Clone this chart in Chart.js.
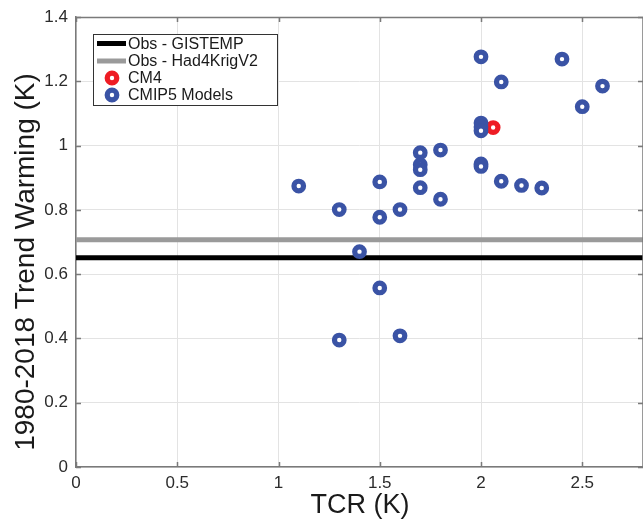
<!DOCTYPE html>
<html lang="en">
<head>
    <meta charset="UTF-8">
    <title>TCR vs Trend Warming</title>
    <script src="https://cdn.jsdelivr.net/npm/chart.js"></script>
    <style>
        html, body {
            margin: 0;
            background: #ffffff;
            overflow: hidden;
        }
        .chart-container {
            position: relative;
            width: 643px;
            height: 520px;
        }
    </style>
</head>
<body>

<div class="chart-container">
    <canvas id="myChart"></canvas>
</div>

<script>
    // valores
    const cmipTcr = [2.0, 2.4, 2.1, 2.6, 2.5, 2.0, 2.0, 2.0, 1.7, 1.8, 1.7, 1.7, 2.0, 2.0, 2.1, 2.2, 2.3, 1.1, 1.5, 1.7, 1.8, 1.3, 1.6, 1.5, 1.4, 1.5, 1.3, 1.6];
    const cmipWarming = [1.276, 1.269, 1.198, 1.185, 1.121, 1.07, 1.058, 1.046, 0.978, 0.986, 0.94, 0.925, 0.943, 0.935, 0.889, 0.876, 0.868, 0.874, 0.887, 0.869, 0.833, 0.801, 0.801, 0.777, 0.670, 0.557, 0.395, 0.408];
    const cm4Tcr = [2.06];
    const cm4Warming = [1.056];
    const gistemp = 0.651;
    const had4krig = 0.707;

    const xTicks = [0, 0.5, 1, 1.5, 2, 2.5];
    const yTicks = [0, 0.2, 0.4, 0.6, 0.8, 1, 1.2, 1.4];
    const xMin = 0, xMax = 2.8;

    const seriesLabels = ['Obs - GISTEMP', 'Obs - Had4KrigV2', 'CM4', 'CMIP5 Models'];
    const blue = '#3a53a5';
    const red = '#ee1c24';
    const axisColor = '#7a7a7a';
    const fontFamily = '"Liberation Sans", Arial, sans-serif';

    const toPoints = (xs, ys) => xs.map((x, i) => ({ x: x, y: ys[i] }));

    // caixa, ticks para dentro, rótulos do eixo x, legenda e títulos
    const boxPlugin = {
        id: 'box',
        afterDraw(chart) {
            const c = chart.ctx;
            const a = chart.chartArea;
            const xs = chart.scales.x, ys = chart.scales.y;
            c.save();
            c.strokeStyle = axisColor;
            c.lineWidth = 1.5;
            c.beginPath();
            c.moveTo(a.left, a.top + 0.5);
            c.lineTo(a.right, a.top + 0.5);
            c.lineTo(a.right, a.bottom);
            c.stroke();
            c.beginPath();
            xTicks.forEach(t => {
                const px = Math.round(xs.getPixelForValue(t)) + 0.5;
                c.moveTo(px, a.bottom); c.lineTo(px, a.bottom - 5);
                c.moveTo(px, a.top); c.lineTo(px, a.top + 5);
            });
            yTicks.forEach(t => {
                const py = Math.round(ys.getPixelForValue(t)) + 0.5;
                c.moveTo(a.left, py); c.lineTo(a.left + 5, py);
                c.moveTo(a.right, py); c.lineTo(a.right - 5, py);
            });
            c.stroke();

            // rótulos do eixo x
            c.fillStyle = '#2b2b2b';
            c.font = '17px ' + fontFamily;
            c.textAlign = 'center';
            c.textBaseline = 'middle';
            xTicks.forEach(t => {
                c.fillText(String(t), xs.getPixelForValue(t), a.bottom + 16);
            });

            // legenda
            const lx = 93, ly = 34, lw = 184, lh = 71;
            c.fillStyle = '#ffffff';
            c.fillRect(lx, ly, lw, lh);
            c.strokeStyle = '#333333';
            c.lineWidth = 1;
            c.strokeRect(lx + 0.5, ly + 0.5, lw, lh);
            const rows = [43.5, 61, 78, 95];
            c.font = '16px ' + fontFamily;
            c.textAlign = 'left';
            chart.data.datasets.forEach((ds, i) => {
                const y = rows[i];
                if (ds.type === 'line') {
                    c.strokeStyle = ds.borderColor;
                    c.lineWidth = 5;
                    c.beginPath();
                    c.moveTo(97, y); c.lineTo(126, y);
                    c.stroke();
                } else {
                    c.strokeStyle = ds.borderColor;
                    c.fillStyle = '#ffffff';
                    c.lineWidth = ds.borderWidth;
                    c.beginPath();
                    c.arc(112, y, ds.pointRadius, 0, Math.PI * 2);
                    c.fill();
                    c.stroke();
                }
                c.fillStyle = '#1a1a1a';
                c.fillText(ds.label, 128, y + 1);
            });

            // títulos dos eixos
            c.fillStyle = '#1a1a1a';
            c.font = '28px ' + fontFamily;
            c.textAlign = 'center';
            c.save();
            c.translate(26, 262);
            c.rotate(-Math.PI / 2);
            c.fillText('1980-2018 Trend Warming (K)', 0, 0);
            c.restore();
            c.font = '27px ' + fontFamily;
            c.textBaseline = 'alphabetic';
            c.fillText('TCR (K)', 360, 513);
            c.restore();
        }
    };

    const ctx = document.getElementById('myChart').getContext('2d');
    const myChart = new Chart(ctx, {
        type: 'scatter',
        data: {
            datasets: [
                {
                    type: 'line',
                    label: seriesLabels[0],
                    data: [{ x: xMin, y: gistemp }, { x: xMax, y: gistemp }],
                    borderColor: '#000000',
                    borderWidth: 5,
                    pointRadius: 0,
                    order: 3
                },
                {
                    type: 'line',
                    label: seriesLabels[1],
                    data: [{ x: xMin, y: had4krig }, { x: xMax, y: had4krig }],
                    borderColor: '#9a9a9a',
                    borderWidth: 5,
                    pointRadius: 0,
                    order: 2
                },
                {
                    label: seriesLabels[2],
                    data: toPoints(cm4Tcr, cm4Warming),
                    borderColor: red,
                    backgroundColor: '#ffffff',
                    pointRadius: 4.8,
                    borderWidth: 5.2,
                    order: 1
                },
                {
                    label: seriesLabels[3],
                    data: toPoints(cmipTcr, cmipWarming),
                    borderColor: blue,
                    backgroundColor: '#ffffff',
                    pointRadius: 4.8,
                    borderWidth: 5.2,
                    order: 0
                }
            ]
        },
        options: {
            responsive: true,
            maintainAspectRatio: false,
            animation: false,
            // sem autoPadding o eixo x vai até a borda direita
            layout: { autoPadding: false, padding: { top: 17, right: -3, left: 0, bottom: 0 } },
            plugins: {
                legend: { display: false },
                tooltip: { enabled: false }
            },
            scales: {
                x: {
                    type: 'linear',
                    min: xMin,
                    max: xMax,
                    afterFit: s => { s.height = 53; },
                    afterBuildTicks: s => { s.ticks = xTicks.map(v => ({ value: v })); },
                    grid: { color: '#e3e3e3', tickLength: 0 },
                    border: { color: axisColor, width: 1.5 },
                    ticks: { display: false }
                },
                y: {
                    type: 'linear',
                    min: 0,
                    max: 1.4,
                    afterFit: s => { s.width = 76; s.paddingTop = 0; s.paddingBottom = 0; },
                    afterBuildTicks: s => { s.ticks = yTicks.map(v => ({ value: v })); },
                    grid: { color: '#e3e3e3', tickLength: 0 },
                    border: { color: axisColor, width: 1.5 },
                    ticks: {
                        color: '#2b2b2b',
                        padding: 8,
                        font: { family: fontFamily, size: 17 },
                        callback: v => String(v)
                    }
                }
            }
        },
        plugins: [boxPlugin]
    });
</script>

</body>
</html>
